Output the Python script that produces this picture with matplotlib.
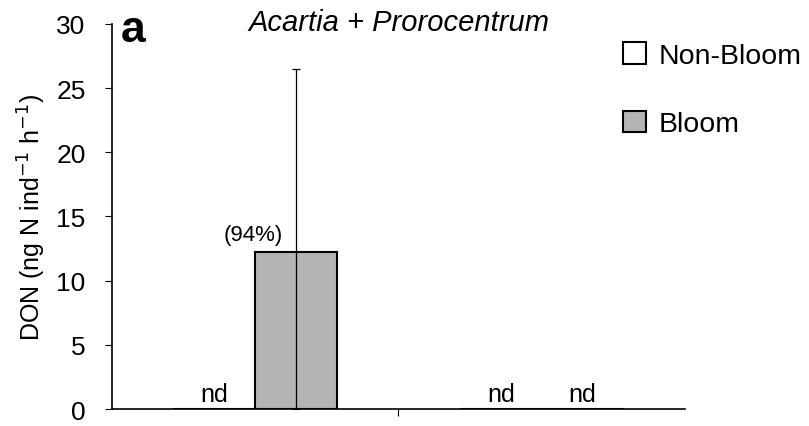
#!/usr/bin/env python3
# -*- coding: utf-8 -*-

import matplotlib
matplotlib.use("Agg")
import matplotlib.pyplot as plt
import numpy as np

plt.rcParams['font.family'] = ['Liberation Sans', 'DejaVu Sans']

# data
csoportok = ['', '']
nonbloom = [0.0, 0.0]
bloom = [12.2, 0.0]
bloom_err = [14.3, 0.0]
nonbloom_nd = [True, True]
bloom_nd = [False, True]
szazalek = ['(94%)', None]

fig = plt.figure(figsize=(8.09, 4.27), dpi=100)
ax = fig.add_axes([0.1384, 0.0398, 0.7083, 0.9017])

x = np.arange(len(csoportok))
w = 0.286

ax.bar(x - w / 2, nonbloom, w, color='white', edgecolor='black', linewidth=1.5, label='Non-Bloom')
ax.bar(x + w / 2, bloom, w, color='#b4b4b4', edgecolor='black', linewidth=1.5, label='Bloom')

for i in range(len(x)):
    if bloom_err[i] > 0:
        ax.errorbar(x[i] + w / 2, bloom[i], yerr=[[bloom[i]], [bloom_err[i]]],
                    fmt='none', ecolor='black', elinewidth=0.9, capsize=3, capthick=0.9)
    if nonbloom_nd[i]:
        ax.text(x[i] - w / 2, 0.25, 'nd', ha='center', va='bottom', fontsize=18)
    if bloom_nd[i]:
        ax.text(x[i] + w / 2, 0.25, 'nd', ha='center', va='bottom', fontsize=18)
    if szazalek[i]:
        ax.text(x[i] + w / 2 - 0.15, bloom[i] + 0.6, szazalek[i], ha='center', va='bottom', fontsize=16)

ax.set_xlim(-0.5, 1.5)
ax.set_ylim(0, 30)
ax.set_yticks(range(0, 31, 5))
ax.set_xticks([0.5])
ax.set_xticklabels([''])
ax.tick_params(axis='y', labelsize=19, length=5, pad=14, direction='out')
ax.tick_params(axis='x', length=5, direction='out')
ax.spines['top'].set_visible(False)
ax.spines['right'].set_visible(False)
ax.spines['left'].set_linewidth(1.2)
ax.spines['bottom'].set_linewidth(1.2)

ax.set_ylabel('DON (ng N ind$^{-1}$ h$^{-1}$)', fontsize=18, labelpad=6)
ax.text(0.5, 1.005, 'Acartia + Prorocentrum', transform=ax.transAxes, ha='center', va='center',
        fontsize=21, style='italic')
ax.text(0.016, 0.985, 'a', transform=ax.transAxes, ha='left', va='center', fontsize=32, fontweight='bold')

ax.legend(loc='upper left', bbox_to_anchor=(0.892, 0.952), frameon=False, fontsize=20.5,
          handlelength=0.8, handleheight=0.8, labelspacing=1.45, handletextpad=0.45,
          borderaxespad=0, borderpad=0)

fig.savefig('out.png', dpi=100)
